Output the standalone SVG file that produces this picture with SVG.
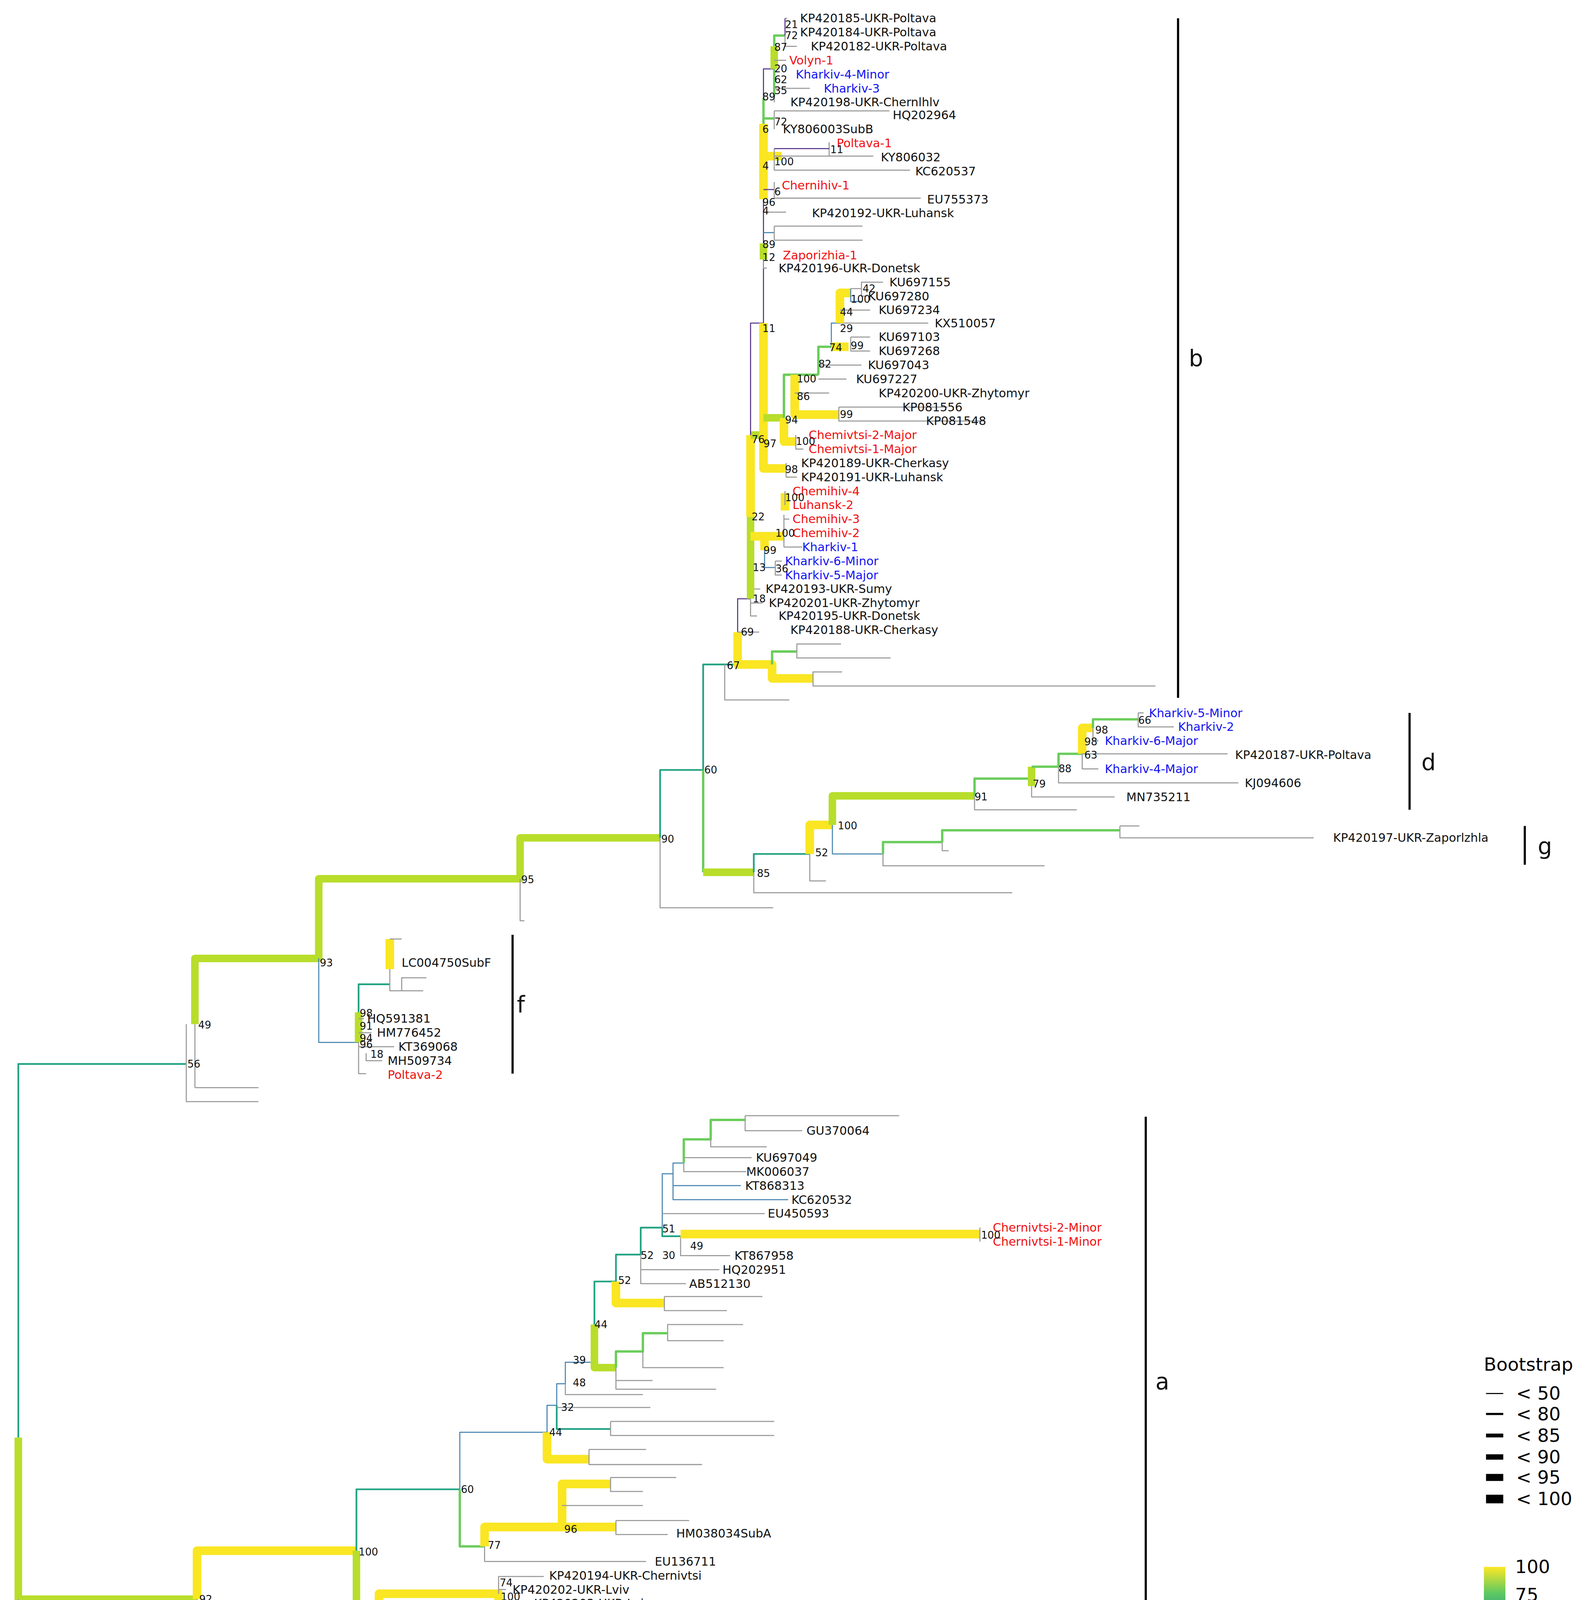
<svg xmlns="http://www.w3.org/2000/svg" width="4068" height="4329" viewBox="0 0 4068 4329">
<defs>
<style>
text{font-family:"DejaVu Sans",sans-serif;dominant-baseline:central}
.l{font-size:11px;fill:#111}
.r{fill:#f01010}
.u{fill:#1414f0}
.n{font-size:9.5px;fill:#111}
.k{font-size:21px;fill:#111}
path{fill:none;stroke-linejoin:round}
.g{stroke:#9a9a9a;stroke-width:1}
.p{stroke:#5a3a8e;stroke-width:1}
.b{stroke:#4a86b0;stroke-width:1}
.t{stroke:#23a383;stroke-width:1.6}
.gr{stroke:#6acd5b;stroke-width:2.2}
.yg{stroke:#b8dd2a;stroke-width:7}
.y{stroke:#fae622;stroke-width:8}
.bar{stroke:#000;stroke-width:2}
</style>
<linearGradient id="vir" x1="0" y1="1" x2="0" y2="0">
<stop offset="0" stop-color="#440154"/><stop offset="0.25" stop-color="#3b528b"/><stop offset="0.5" stop-color="#21918c"/><stop offset="0.75" stop-color="#5ec962"/><stop offset="1" stop-color="#fde725"/>
</linearGradient>
</defs>
<rect width="4068" height="4329" fill="#fff"/>
<g transform="scale(2.7568)">
<g id="connectors">
<!-- root & backbone -->
<path class="t" d="M173 988 H17 V1335"/>
<path class="yg" d="M17 1335 V1485 H183"/>
<path class="g" d="M17 1485 V1540 H105"/>
<path class="g" d="M173 951 V1023 H240 M181 1010 H240"/>
<path class="g" d="M181 951 V1010"/>
<path class="yg" d="M181 951 V890 H296 V816 H483 V778 H613"/>
<path class="b" d="M296 890 V968 H333"/>
<path class="g" d="M483 816 V855 H487"/>
<path class="g" d="M613 778 V843 H718"/>
<path class="t" d="M613 778 V715 H653 V617 H685"/>
<path class="gr" d="M653 715 V810"/>
<path class="yg" d="M653 810 H700"/>
<!-- clade f -->
<path class="t" d="M333 968 V914 H362"/>
<path class="yg" d="M333 940 V968"/>
<path class="g" d="M333 968 V997 H340 M333 946 H338 M333 959 H345 M333 972 H366 M340 978 V985 H355"/>
<path class="y" d="M362 872 V900"/>
<path class="g" d="M362 872 H373 M362 900 V920 H373 V908 H396 M373 920 H393"/>
<!-- clade b lower -->
<path class="g" d="M673 617 V650 H733"/>
<path class="y" d="M685 587 V617 H717 V630 H755"/>
<path class="gr" d="M717 617 V605 H740"/>
<path class="g" d="M740 605 V598 H781 M740 605 V611 H827 M755 630 V624 H782 M755 630 V637 H1073"/>
<path class="p" d="M685 587 V556 H697"/>
<path class="g" d="M685 587 H705 M697 556 V572 H703 M697 547 H706 M697 560 H708"/>
<path class="y" d="M697 404 V480"/>
<path class="yg" d="M697 480 V556"/>
<path class="yg" d="M697 404 H709"/>
<path class="p" d="M697 404 V300 H709"/>
<path class="y" d="M709 300 V435 H730"/>
<path class="g" d="M730 430 V443 H740"/>
<path class="yg" d="M709 388 H728"/>
<path class="y" d="M728 388 V410 H739"/>
<path class="g" d="M739 404 V417 H746"/>
<path class="gr" d="M728 388 V348 H760"/>
<path class="y" d="M738 348 V385 H779"/>
<path class="g" d="M738 365 H770 M779 378 V391 H915 M779 378 H880"/>
<path class="gr" d="M760 348 V322 H772"/>
<path class="g" d="M760 339 H800 M760 352 H786"/>
<path class="b" d="M772 322 V300 H780"/>
<path class="y" d="M772 322 H788"/>
<path class="g" d="M790 313 V326 H808 M790 313 H808"/>
<path class="g" d="M780 300 H862"/>
<path class="y" d="M780 300 V272 H790"/>
<path class="g" d="M780 288 H808"/>
<path class="b" d="M790 268 V280 H800"/>
<path class="g" d="M790 268 H800 V262 H820 M800 268 V275 H805"/>
<path class="y" d="M697 498 H710 V511 M710 498 H728"/>
<path class="g" d="M728 498 V478 M728 508 V498 M728 508 H745 M728 482 H733"/>
<path class="y" d="M729 458 V474"/>
<path class="g" d="M729 456 V469"/>
<path class="b" d="M710 511 V527 H720"/>
<path class="g" d="M720 521 V534 H726 M720 521 H726"/>
<!-- clade b upper -->
<path class="p" d="M709 300 V64 H719"/>
<path class="gr" d="M709 91 V115"/>
<path class="y" d="M709 115 V185"/>
<path class="yg" d="M709 226 V241"/>
<path class="yg" d="M719 43 V64"/>
<path class="gr" d="M719 64 V89 M719 43 V33 H729"/>
<path class="p" d="M729 17 V33"/>
<path class="g" d="M729 17 H731 M729 30 H731 M729 33 V43 H740 M719 56 H730 M719 82 H752 M719 89 V95"/>
<path class="gr" d="M709 110 H719"/>
<path class="g" d="M719 103 V120 M719 103 H826"/>
<path class="y" d="M709 145 H726"/>
<path class="g" d="M719 138 V158 H845 M719 145 H811 M770 132 V145"/>
<path class="p" d="M719 138 H770"/>
<path class="p" d="M709 176 H719"/>
<path class="g" d="M719 169 V184 H855 M709 197 H730"/>
<path class="b" d="M709 216 H719"/>
<path class="g" d="M719 210 V223 H801 M719 210 H801 M709 241 V249 H712"/>
<!-- clade d/g -->
<path class="g" d="M700 810 V829 H940"/>
<path class="t" d="M700 810 V793 H752"/>
<path class="g" d="M752 793 V818 H767"/>
<path class="y" d="M752 793 V766 H773"/>
<path class="b" d="M773 766 V793 H820"/>
<path class="yg" d="M773 766 V739 H905"/>
<path class="gr" d="M820 793 V782 H875"/>
<path class="g" d="M820 793 V804 H970 M875 782 V790 H881"/>
<path class="gr" d="M875 782 V771 H1040"/>
<path class="g" d="M1040 767 V778 H1220 M1040 767 H1058"/>
<path class="g" d="M905 739 V752 H1000"/>
<path class="gr" d="M905 739 V723 H958"/>
<path class="yg" d="M958 712 V730"/>
<path class="g" d="M958 730 V740 H1035"/>
<path class="gr" d="M958 712 H983 V700 H1005"/>
<path class="g" d="M983 712 V727 H1150"/>
<path class="y" d="M1005 700 V676 H1015"/>
<path class="g" d="M1005 700 V714 H1020 M1005 700 H1140"/>
<path class="gr" d="M1015 676 V668 H1057"/>
<path class="g" d="M1015 676 V688 H1020 M1057 662 V675 H1090 M1057 662 H1062"/>
<!-- clade a -->
<path class="y" d="M183 1485 V1440 H331"/>
<path class="g" d="M183 1485 V1527 H283"/>
<path class="yg" d="M331 1440 V1497 H352"/>
<path class="t" d="M331 1440 V1383 H427"/>
<path class="y" d="M352 1497 V1480 H463 V1497 H485"/>
<path class="g" d="M352 1497 V1515 H480 M463 1480 V1464 H505 M463 1476 H470 M485 1489 V1502 H500"/>
<path class="gr" d="M427 1383 V1436 H450"/>
<path class="g" d="M450 1436 V1450 H600"/>
<path class="y" d="M450 1436 V1418 H572 M522 1418 V1378 H567"/>
<path class="g" d="M522 1398 H597 M572 1412 V1425 H620 M572 1412 H640 M567 1372 V1385 H597 M567 1372 H628"/>
<path class="b" d="M427 1383 V1330 H508 V1305 H517"/>
<path class="y" d="M508 1330 V1355 H547"/>
<path class="g" d="M547 1346 V1360 H652 M547 1346 H600"/>
<path class="b" d="M517 1305 V1285 H525"/>
<path class="t" d="M517 1305 V1327 H567"/>
<path class="g" d="M517 1307 H604 M567 1320 V1333 H719 M567 1320 H719"/>
<path class="b" d="M525 1285 V1265 H552"/>
<path class="g" d="M525 1285 V1295 H597"/>
<path class="t" d="M552 1265 V1190 H572"/>
<path class="yg" d="M552 1230 V1270 H572"/>
<path class="gr" d="M572 1270 V1255 H597 V1238 H620"/>
<path class="g" d="M572 1270 V1290 H665 M572 1282 H606 M597 1255 V1270 H672 M620 1238 V1230 H690 M620 1238 V1245 H672"/>
<path class="y" d="M572 1190 V1210 H617"/>
<path class="g" d="M617 1204 V1217 H675 M617 1204 H708"/>
<path class="t" d="M572 1190 V1165 H595 V1140 H615"/>
<path class="g" d="M595 1165 V1192 H637 M595 1179 H668"/>
<path class="t" d="M615 1140 V1148 H632"/>
<path class="b" d="M615 1140 V1090 H625"/>
<path class="g" d="M615 1127 H710 M632 1148 V1166 H678"/>
<path class="y" d="M632 1146 H910"/>
<path class="g" d="M910 1140 V1153"/>
<path class="b" d="M625 1090 V1114 H732 M625 1101 H688"/>
<path class="b" d="M625 1090 V1080 H635"/>
<path class="gr" d="M635 1080 V1058 H660 V1040 H692"/>
<path class="g" d="M635 1080 V1088 H693 M635 1075 H698 M660 1058 V1065 H712 M692 1036 V1050 H745 M692 1036 H835"/>
</g>
<g id="labels">
<text class="l" x="743" y="17">KP420185-UKR-Poltava</text>
<text class="l" x="743" y="30">KP420184-UKR-Poltava</text>
<text class="l" x="753" y="43">KP420182-UKR-Poltava</text>
<text class="l r" x="733" y="56">Volyn-1</text>
<text class="l u" x="739" y="69">Kharkiv-4-Minor</text>
<text class="l u" x="765" y="82">Kharkiv-3</text>
<text class="l" x="734" y="95">KP420198-UKR-Chernlhlv</text>
<text class="l" x="829" y="107">HQ202964</text>
<text class="l" x="727" y="120">KY806003SubB</text>
<text class="l r" x="777" y="133">Poltava-1</text>
<text class="l" x="818" y="146">KY806032</text>
<text class="l" x="850" y="159">KC620537</text>
<text class="l r" x="726" y="172">Chernihiv-1</text>
<text class="l" x="861" y="185">EU755373</text>
<text class="l" x="754" y="198">KP420192-UKR-Luhansk</text>
<text class="l r" x="727" y="237">Zaporizhia-1</text>
<text class="l" x="723" y="249">KP420196-UKR-Donetsk</text>
<text class="l" x="826" y="262">KU697155</text>
<text class="l" x="806" y="275">KU697280</text>
<text class="l" x="816" y="288">KU697234</text>
<text class="l" x="868" y="300">KX510057</text>
<text class="l" x="816" y="313">KU697103</text>
<text class="l" x="816" y="326">KU697268</text>
<text class="l" x="806" y="339">KU697043</text>
<text class="l" x="795" y="352">KU697227</text>
<text class="l" x="816" y="365">KP420200-UKR-Zhytomyr</text>
<text class="l" x="838" y="378">KP081556</text>
<text class="l" x="860" y="391">KP081548</text>
<text class="l r" x="751" y="404">Chemivtsi-2-Major</text>
<text class="l r" x="751" y="417">Chemivtsi-1-Major</text>
<text class="l" x="744" y="430">KP420189-UKR-Cherkasy</text>
<text class="l" x="744" y="443">KP420191-UKR-Luhansk</text>
<text class="l r" x="736" y="456">Chemihiv-4</text>
<text class="l r" x="736" y="469">Luhansk-2</text>
<text class="l r" x="736" y="482">Chemihiv-3</text>
<text class="l r" x="736" y="495">Chemihiv-2</text>
<text class="l u" x="745" y="508">Kharkiv-1</text>
<text class="l u" x="729" y="521">Kharkiv-6-Minor</text>
<text class="l u" x="729" y="534">Kharkiv-5-Major</text>
<text class="l" x="711" y="547">KP420193-UKR-Sumy</text>
<text class="l" x="714" y="560">KP420201-UKR-Zhytomyr</text>
<text class="l" x="723" y="572">KP420195-UKR-Donetsk</text>
<text class="l" x="734" y="585">KP420188-UKR-Cherkasy</text>
<text class="l u" x="1067" y="662">Kharkiv-5-Minor</text>
<text class="l u" x="1094" y="675">Kharkiv-2</text>
<text class="l u" x="1026" y="688">Kharkiv-6-Major</text>
<text class="l" x="1147" y="701">KP420187-UKR-Poltava</text>
<text class="l u" x="1026" y="714">Kharkiv-4-Major</text>
<text class="l" x="1156" y="727">KJ094606</text>
<text class="l" x="1046" y="740">MN735211</text>
<text class="l" x="1238" y="778">KP420197-UKR-Zaporlzhla</text>
<text class="l" x="373" y="894">LC004750SubF</text>
<text class="l" x="341" y="946">HQ591381</text>
<text class="l" x="350" y="959">HM776452</text>
<text class="l" x="370" y="972">KT369068</text>
<text class="l" x="360" y="985">MH509734</text>
<text class="l r" x="360" y="998">Poltava-2</text>
<text class="l" x="749" y="1050">GU370064</text>
<text class="l" x="702" y="1075">KU697049</text>
<text class="l" x="693" y="1088">MK006037</text>
<text class="l" x="692" y="1101">KT868313</text>
<text class="l" x="735" y="1114">KC620532</text>
<text class="l" x="713" y="1127">EU450593</text>
<text class="l r" x="922" y="1140">Chernivtsi-2-Minor</text>
<text class="l r" x="922" y="1153">Chernivtsi-1-Minor</text>
<text class="l" x="682" y="1166">KT867958</text>
<text class="l" x="671" y="1179">HQ202951</text>
<text class="l" x="640" y="1192">AB512130</text>
<text class="l" x="628" y="1424">HM038034SubA</text>
<text class="l" x="608" y="1450">EU136711</text>
<text class="l" x="510" y="1463">KP420194-UKR-Chernivtsi</text>
<text class="l" x="476" y="1476">KP420202-UKR-Lviv</text>
<text class="l" x="496" y="1489">KP420203-UKR-Lviv</text>
<text class="l" x="504" y="1502">KP420199-UKR-Dnipropetrovsk</text>
<text class="l" x="453" y="1515">DQ856569</text>
<text class="l" x="298" y="1528">KP420186-UKR-Poltava</text>
</g>
<g id="bootstrap">
<text class="n" x="729" y="23">21</text><text class="n" x="729" y="33">72</text><text class="n" x="719" y="44">87</text>
<text class="n" x="719" y="64">20</text><text class="n" x="719" y="74">62</text><text class="n" x="719" y="84">35</text>
<text class="n" x="708" y="90">89</text><text class="n" x="719" y="113">72</text><text class="n" x="708" y="120">6</text>
<text class="n" x="771" y="139">11</text><text class="n" x="719" y="150">100</text><text class="n" x="708" y="154">4</text>
<text class="n" x="719" y="178">6</text><text class="n" x="708" y="188">96</text><text class="n" x="708" y="196">4</text>
<text class="n" x="708" y="227">89</text><text class="n" x="708" y="239">12</text><text class="n" x="708" y="305">11</text>
<text class="n" x="801" y="268">42</text><text class="n" x="790" y="278">100</text><text class="n" x="780" y="290">44</text>
<text class="n" x="780" y="305">29</text><text class="n" x="790" y="321">99</text><text class="n" x="770" y="323">74</text>
<text class="n" x="760" y="338">82</text><text class="n" x="740" y="352">100</text><text class="n" x="740" y="368">86</text>
<text class="n" x="780" y="385">99</text><text class="n" x="729" y="390">94</text><text class="n" x="698" y="408">76</text>
<text class="n" x="709" y="412">97</text><text class="n" x="739" y="410">100</text><text class="n" x="729" y="436">98</text>
<text class="n" x="729" y="462">100</text><text class="n" x="698" y="480">22</text><text class="n" x="720" y="495">100</text>
<text class="n" x="709" y="511">99</text><text class="n" x="699" y="527">13</text><text class="n" x="720" y="528">36</text>
<text class="n" x="699" y="556">18</text><text class="n" x="688" y="587">69</text><text class="n" x="675" y="618">67</text>
<text class="n" x="654" y="715">60</text><text class="n" x="614" y="779">90</text><text class="n" x="484" y="817">95</text>
<text class="n" x="703" y="811">85</text><text class="n" x="757" y="792">52</text><text class="n" x="778" y="767">100</text>
<text class="n" x="905" y="740">91</text><text class="n" x="959" y="728">79</text><text class="n" x="983" y="714">88</text>
<text class="n" x="1007" y="701">63</text><text class="n" x="1007" y="689">98</text><text class="n" x="1017" y="678">98</text>
<text class="n" x="1057" y="669">66</text><text class="n" x="297" y="894">93</text><text class="n" x="184" y="952">49</text>
<text class="n" x="174" y="988">56</text><text class="n" x="334" y="941">98</text><text class="n" x="334" y="953">91</text>
<text class="n" x="334" y="964">94</text><text class="n" x="334" y="970">96</text><text class="n" x="344" y="979">18</text>
<text class="n" x="615" y="1141">51</text><text class="n" x="641" y="1157">49</text><text class="n" x="615" y="1166">30</text>
<text class="n" x="595" y="1166">52</text><text class="n" x="574" y="1189">52</text><text class="n" x="552" y="1230">44</text>
<text class="n" x="532" y="1263">39</text><text class="n" x="532" y="1284">48</text><text class="n" x="521" y="1307">32</text>
<text class="n" x="510" y="1330">44</text><text class="n" x="428" y="1383">60</text><text class="n" x="524" y="1420">96</text>
<text class="n" x="453" y="1435">77</text><text class="n" x="333" y="1441">100</text><text class="n" x="354" y="1498">89</text>
<text class="n" x="185" y="1485">92</text><text class="n" x="464" y="1470">74</text><text class="n" x="465" y="1483">100</text>
<text class="n" x="486" y="1496">100</text><text class="n" x="911" y="1147">100</text>
</g>
<g id="clade-bars">
<path class="bar" d="M1094 17 V648 M1309 662 V752 M1416 767 V803 M476 868 V997 M1064 1037 V1527"/>
<text class="k" x="1104" y="333">b</text>
<text class="k" x="1320" y="708">d</text>
<text class="k" x="1428" y="786">g</text>
<text class="k" x="480" y="933">f</text>
<text class="k" x="1073" y="1283">a</text>
</g>
<g id="scale">
<path class="bar" d="M620 1552 H734"/>
<text x="677" y="1539" style="font-size:20px;text-anchor:middle">0.05</text>
</g>
<g id="legend">
<text x="1378" y="1267" style="font-size:17px">Bootstrap</text>
<path d="M1380 1294 H1396" stroke="#000" stroke-width="1"/>
<path d="M1380 1313 H1396" stroke="#000" stroke-width="2"/>
<path d="M1380 1333 H1396" stroke="#000" stroke-width="3.5"/>
<path d="M1380 1353 H1396" stroke="#000" stroke-width="5"/>
<path d="M1380 1372 H1396" stroke="#000" stroke-width="6.5"/>
<path d="M1380 1392 H1396" stroke="#000" stroke-width="8"/>
<text x="1408" y="1294" style="font-size:17px">&lt; 50</text>
<text x="1408" y="1313" style="font-size:17px">&lt; 80</text>
<text x="1408" y="1333" style="font-size:17px">&lt; 85</text>
<text x="1408" y="1353" style="font-size:17px">&lt; 90</text>
<text x="1408" y="1372" style="font-size:17px">&lt; 95</text>
<text x="1408" y="1392" style="font-size:17px">&lt; 100</text>
<rect x="1378" y="1455" width="20" height="97" fill="url(#vir)"/>
<text x="1407" y="1455" style="font-size:17px">100</text>
<text x="1407" y="1481" style="font-size:17px">75</text>
<text x="1407" y="1507" style="font-size:17px">50</text>
<text x="1407" y="1533" style="font-size:17px">25</text>
</g>
</g>
</svg>
